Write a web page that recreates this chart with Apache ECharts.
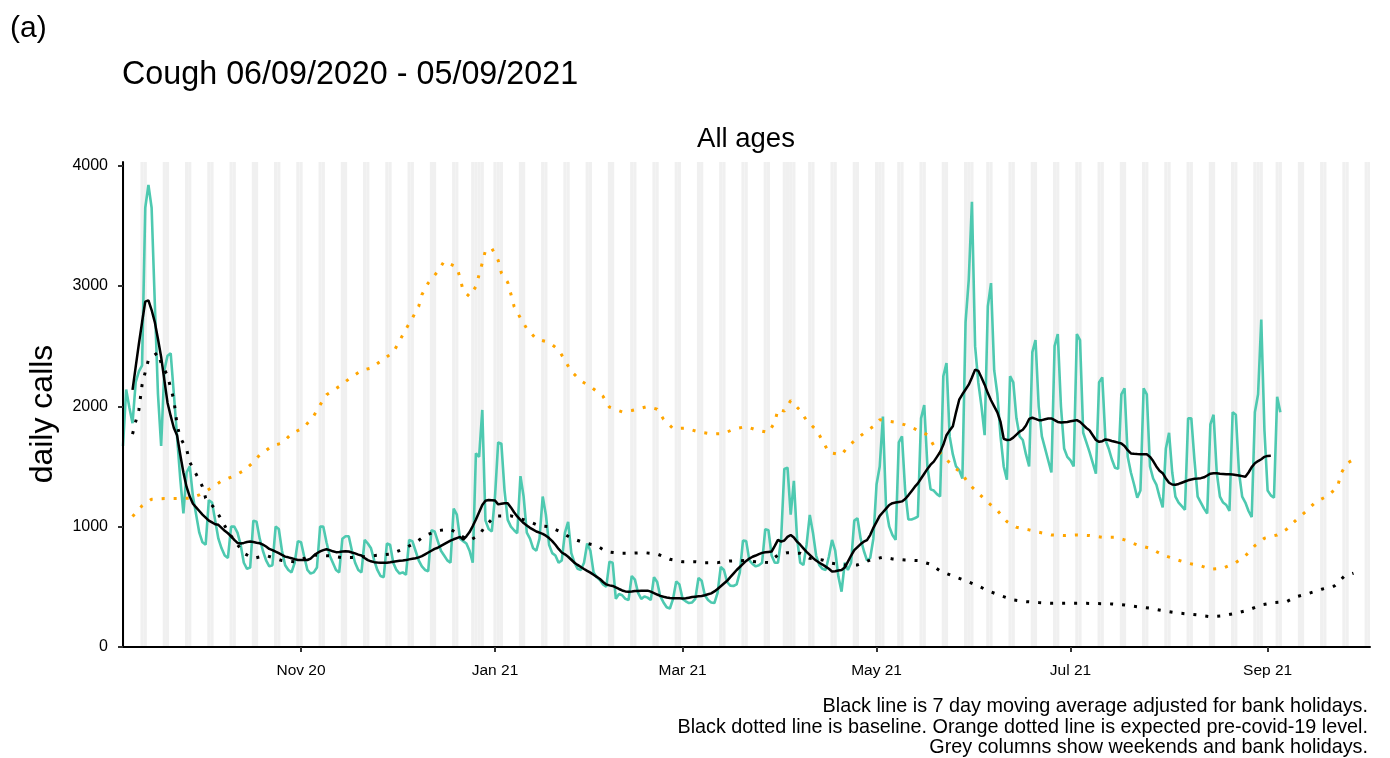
<!DOCTYPE html>
<html><head><meta charset="utf-8">
<script src="https://cdn.jsdelivr.net/npm/echarts@6/dist/echarts.min.js"></script>
<style>html,body{margin:0;padding:0;background:#fff}#c{width:1390px;height:758px}</style>
</head><body><div id="c"></div>
<script>
// ---- data (day 0 = Sunday 06/09/2020) ----
const startDate = '2020-09-06';
const dailyCalls = [
1670,2140,1990,1860,2200,2290,2340,
3650,3840,3650,2860,2100,1670,2300,
2420,2440,2100,1750,1400,1110,1450,
1500,1250,1100,950,870,850,1220,
1200,1050,900,820,760,740,1000,
1000,950,850,700,650,660,1050,
1040,900,800,720,670,680,1000,
980,800,680,640,620,700,880,
870,750,640,610,620,660,1000,
1000,870,760,700,640,620,900,
920,920,800,700,640,620,890,
860,820,720,640,590,580,860,
850,700,640,610,620,600,890,
880,800,720,670,640,630,970,
960,880,800,760,720,700,1150,
1100,900,880,860,800,700,1610,
1580,1970,1050,980,960,1250,1700,
1690,1300,1056,1000,970,945,1420,
1250,950,900,820,800,900,1250,
1100,850,780,760,700,720,950,
1040,780,700,650,640,700,860,
800,620,580,557,520,500,709,
700,400,440,430,400,390,590,
560,450,400,420,410,390,580,
540,420,370,330,320,400,545,
520,400,380,365,370,400,573,
550,430,390,370,365,450,665,
640,540,510,507,520,620,884,
880,720,690,670,680,700,979,
970,760,700,700,900,1480,1490,
1100,1380,900,700,682,850,1098,
950,760,680,650,640,750,890,
800,585,460,700,640,700,1050,
1070,900,800,720,740,900,1350,
1500,1915,1150,1000,930,890,1700,
1750,1300,1060,1060,1070,1084,1900,
2010,1500,1310,1300,1270,1250,2250,
2360,1750,1600,1500,1470,1400,2700,
3050,3700,2500,2200,2000,1760,2830,
3024,2300,2100,1750,1500,1390,2250,
2200,1900,1750,1720,1600,1500,2450,
2550,2000,1750,1650,1550,1450,2500,
2600,2000,1650,1580,1550,1500,2600,
2550,1780,1700,1620,1530,1440,2200,
2240,1720,1650,1560,1490,1480,2100,
2150,1580,1450,1350,1240,1300,2150,
2100,1500,1400,1350,1250,1160,1650,
1780,1450,1250,1200,1170,1140,1900,
1900,1550,1250,1200,1150,1110,1850,
1930,1450,1250,1200,1180,1130,1950,
1930,1450,1250,1200,1130,1080,1950,
2100,2720,1800,1300,1260,1240,2080,
1950];

const movingAverage = [null,null,null,
2137,2330,2520,2700,2870,2880,2800,2700,2560,2410,
2220,2030,1920,1820,1760,1600,1450,1330,1250,1190,
1160,1130,1100,1075,1050,1035,1020,1015,990,965,
945,920,890,865,860,865,872,876,872,866,
862,850,835,815,805,792,780,765,751,745,
738,730,723,722,722,723,735,760,779,795,
805,812,805,795,788,790,793,795,793,785,
778,768,760,740,722,712,705,702,700,700,
701,704,708,712,716,718,722,728,733,737,
745,755,770,785,800,815,825,840,855,870,
884,895,905,915,892,920,955,1005,1060,1120,
1180,1215,1222,1220,1217,1185,1190,1195,1195,1160,
1120,1085,1056,1030,1010,990,975,960,950,940,
925,905,880,850,815,785,770,750,725,700,
682,665,648,632,618,600,583,565,540,520,
512,507,495,482,470,462,460,462,465,466,
468,468,468,460,448,436,425,418,412,408,
406,405,405,404,405,410,415,418,421,424,
430,438,446,462,482,505,528,550,580,610,
640,665,690,715,735,750,760,772,782,787,
790,793,840,890,876,885,915,931,910,875,
850,820,790,765,740,718,700,685,668,650,
628,630,636,640,660,710,760,805,830,855,
875,888,930,990,1040,1090,1120,1150,1180,1195,
1200,1205,1210,1230,1260,1295,1330,1360,1400,1440,
1480,1515,1540,1580,1620,1680,1760,1800,1835,1950,
2055,2100,2140,2180,2240,2305,2295,2240,2180,2110,
2050,2000,1950,1870,1730,1720,1722,1740,1765,1790,
1805,1840,1895,1905,1895,1885,1885,1892,1898,1899,
1885,1870,1866,1868,1870,1875,1880,1885,1870,1845,
1820,1800,1760,1720,1705,1710,1725,1720,1712,1705,
1698,1691,1670,1635,1608,1605,1603,1602,1602,1602,
1580,1545,1500,1465,1444,1400,1365,1350,1348,1355,
1365,1375,1385,1392,1398,1400,1403,1410,1425,1440,
1444,1443,1440,1438,1436,1436,1433,1430,1425,1420,
1414,1450,1495,1527,1545,1560,1580,1588,1590];

// [day, value]
const baseline = [[3,1769],[4,1874],[5,1971],[6,2179],[7,2284],[8,2387],[11,2448],[12,2359],[14,2254],[15,2151],[16,2054],[17,1846],[18,1741],[20,1644],[21,1536],[23,1436],[25,1333],[26,1237],[29,1148],[31,1056],[33,959],[38,779],[41,737],[45,760],[50,718],[54,709],[60,765],[65,757],[69,743],[73,743],[80,762],[84,771],[88,812],[92,867],[95,926],[99,967],[103,979],[106,930],[109,884],[112,929],[114,1006],[117,1089],[122,1090],[127,1050],[131,1006],[134,1000],[138,951],[141,904],[145,867],[149,842],[152,793],[156,779],[160,779],[164,784],[168,773],[172,729],[176,709],[180,709],[183,701],[187,701],[191,715],[195,718],[199,709],[203,701],[206,765],[209,784],[213,779],[216,737],[220,723],[223,696],[227,682],[231,682],[235,723],[239,746],[242,732],[246,723],[250,718],[254,688],[257,632],[261,590],[265,552],[269,507],[272,468],[276,427],[280,391],[284,377],[288,369],[292,363],[296,363],[303,363],[311,358],[315,349],[319,335],[323,322],[327,302],[331,285],[335,274],[338,266],[342,252],[346,260],[350,280],[354,308],[358,349],[362,369],[366,377],[369,418],[373,446],[377,480],[381,507],[384,585],[387,613]];

const expected = [[3,1084],[6,1173],[9,1228],[13,1233],[17,1233],[21,1237],[24,1264],[28,1325],[31,1380],[35,1422],[38,1466],[41,1536],[43,1597],[47,1672],[50,1694],[53,1771],[57,1827],[60,1921],[62,2012],[64,2096],[68,2165],[71,2226],[75,2298],[78,2318],[82,2393],[85,2448],[87,2545],[89,2642],[91,2733],[93,2830],[94,2927],[96,3024],[99,3121],[101,3204],[105,3157],[106,3066],[107,2960],[109,2913],[111,2996],[112,3094],[113,3191],[114,3296],[116,3313],[118,3213],[119,3108],[121,3030],[122,2933],[123,2830],[125,2733],[127,2645],[130,2559],[134,2531],[137,2470],[139,2381],[141,2290],[144,2212],[147,2165],[151,2082],[153,1993],[157,1954],[160,1965],[165,1998],[168,1976],[170,1893],[173,1815],[177,1818],[181,1788],[185,1771],[189,1774],[192,1810],[196,1832],[199,1805],[203,1782],[205,1868],[206,1976],[208,1960],[210,2048],[213,1965],[215,1882],[218,1805],[220,1716],[222,1616],[226,1597],[228,1666],[231,1735],[234,1796],[236,1832],[238,1888],[243,1868],[246,1846],[249,1813],[253,1763],[255,1674],[258,1583],[261,1505],[264,1436],[266,1355],[269,1278],[272,1203],[275,1134],[278,1042],[281,995],[285,973],[288,954],[292,931],[296,926],[300,931],[304,926],[308,912],[312,912],[315,890],[319,848],[323,821],[327,765],[331,729],[335,696],[339,674],[342,646],[346,654],[350,701],[353,757],[356,842],[359,904],[363,931],[366,979],[369,1056],[372,1125],[375,1203],[379,1258],[382,1328],[383,1439],[385,1527],[388,1574]];

const tickDates = ['2020-11-01','2021-01-01','2021-03-01','2021-05-01','2021-07-01','2021-09-01'];
const tickLabels = ['Nov 20','Jan 21','Mar 21','May 21','Jul 21','Sep 21'];
const yTicks = [0,1000,2000,3000,4000];
const bankHolidays = ['2020-12-25','2020-12-28','2021-01-01','2021-04-02','2021-04-05','2021-05-03','2021-05-31','2021-08-30'];
const axisEndDate = '2021-10-04';

// ---- build ----
const FONT = '"Liberation Sans", Arial, Helvetica, sans-serif';
function dayOf(s){const p=s.split('-').map(Number);const q=startDate.split('-').map(Number);
  return Math.round((Date.UTC(p[0],p[1]-1,p[2])-Date.UTC(q[0],q[1]-1,q[2]))/86400000);}
const xMax = dayOf(axisEndDate) - 0.8;
const tickDays = tickDates.map(dayOf);
const bh = new Set(bankHolidays.map(dayOf));
const greyAreas = [];
for (let d = 0; d <= Math.ceil(xMax); d++) {
  const wd = d % 7; // 0 = Sunday
  if (wd === 0 || wd === 6 || bh.has(d)) {
    greyAreas.push([{xAxis: Math.max(0, d - 0.5)}, {xAxis: Math.min(xMax, d + 0.5)}]);
  }
}
const callsData = dailyCalls.map((v,i)=>[i,v]);
const maData = movingAverage.map((v,i)=>[i,v]).filter(p=>p[1]!==null);

const chart = echarts.init(document.getElementById('c'), null, {renderer:'canvas'});
chart.setOption({
  animation: false,
  backgroundColor: '#fff',
  grid: {left: 123, right: 20, top: 162, bottom: 111, containLabel: false},
  xAxis: {
    type: 'value', min: 0, max: xMax, z: 10,
    splitLine: {show: false},
    axisLine: {show: true, lineStyle: {color: '#000', width: 2}},
    axisTick: {show: true, length: 5, lineStyle: {color: '#333', width: 2}, customValues: tickDays},
    axisLabel: {show: true, customValues: tickDays, margin: 16, fontSize: 15.5, color: '#000', fontFamily: FONT,
      formatter: v => { const i = tickDays.indexOf(Math.round(v)); return i >= 0 ? tickLabels[i] : ''; }}
  },
  yAxis: {
    type: 'value', min: 0, max: 4030, z: 10,
    splitLine: {show: false},
    axisLine: {show: true, lineStyle: {color: '#000', width: 2}},
    axisTick: {show: true, length: 5, lineStyle: {color: '#333', width: 2}, customValues: yTicks},
    axisLabel: {show: true, customValues: yTicks, margin: 15, fontSize: 16, color: '#000', fontFamily: FONT,
      formatter: v => String(v)}
  },
  series: [
    {type: 'line', data: [], z: 0, silent: true,
     markArea: {silent: true, itemStyle: {color: '#f0f0f0'}, data: greyAreas}},
    {name: 'calls', type: 'line', data: callsData, showSymbol: false, z: 3,
     lineStyle: {color: '#4ec9b0', width: 2.6}},
    {name: 'expected', type: 'line', data: expected, showSymbol: false, z: 4,
     lineStyle: {color: '#ffa500', width: 3, type: [3, 9], cap: 'butt'}},
    {name: 'baseline', type: 'line', data: baseline, showSymbol: false, z: 4,
     lineStyle: {color: '#000', width: 3, type: [3, 9], cap: 'butt'}},
    {name: 'ma', type: 'line', data: maData, showSymbol: false, z: 5,
     lineStyle: {color: '#000', width: 2.5}}
  ],
  graphic: [
    {type: 'text', left: 10, top: 14, style: {text: '(a)', font: '30px ' + FONT, fill: '#000'}},
    {type: 'text', left: 122, top: 59, style: {text: 'Cough 06/09/2020 - 05/09/2021', font: '32.3px ' + FONT, fill: '#000'}},
    {type: 'text', x: 746, y: 139, style: {text: 'All ages', font: '27.5px ' + FONT, fill: '#000', textAlign: 'center', textVerticalAlign: 'middle'}},
    {type: 'text', x: 43, y: 414, rotation: Math.PI / 2, style: {text: 'daily calls', font: '32px ' + FONT, fill: '#000', textAlign: 'center', textVerticalAlign: 'middle'}},
    {type: 'text', x: 1368, y: 707, style: {text: 'Black line is 7 day moving average adjusted for bank holidays.', font: '19.8px ' + FONT, fill: '#000', textAlign: 'right', textVerticalAlign: 'middle'}},
    {type: 'text', x: 1368, y: 728, style: {text: 'Black dotted line is baseline. Orange dotted line is expected pre-covid-19 level.', font: '19.8px ' + FONT, fill: '#000', textAlign: 'right', textVerticalAlign: 'middle'}},
    {type: 'text', x: 1368, y: 748, style: {text: 'Grey columns show weekends and bank holidays.', font: '19.8px ' + FONT, fill: '#000', textAlign: 'right', textVerticalAlign: 'middle'}}
  ]
});
</script></body></html>
